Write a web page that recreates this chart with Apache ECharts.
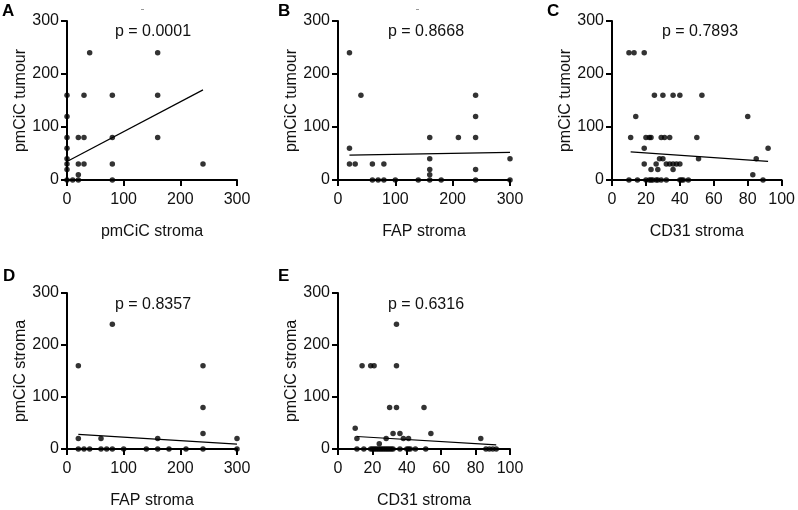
<!DOCTYPE html>
<html>
<head>
<meta charset="utf-8">
<script src="https://cdn.jsdelivr.net/npm/echarts@6/dist/echarts.min.js"></script>
<style>html,body{margin:0;padding:0;background:#fff}#c{width:798px;height:510px}</style>
</head>
<body>
<div id="c"></div>
<script>
// ---- data ----
const panelLetters = ['A', 'B', 'C', 'D', 'E'];
const pValues = ['p = 0.0001', 'p = 0.8668', 'p = 0.7893', 'p = 0.8357', 'p = 0.6316'];
const xNames = ['pmCiC stroma', 'FAP stroma', 'CD31 stroma', 'FAP stroma', 'CD31 stroma'];
const yNames = ['pmCiC tumour', 'pmCiC tumour', 'pmCiC tumour', 'pmCiC stroma', 'pmCiC stroma'];
const xMax = [300, 300, 100, 300, 100];
const xStep = [100, 100, 20, 100, 20];
const yMax = [300, 300, 300, 300, 300];
const yStep = [100, 100, 100, 100, 100];

const aPoints = [[0,160],[0,120],[0,80],[0,60],[0,40],[0,30],[0,20],[0,0],[10,0],[20,80],[20,30],[20,10],[20,0],
  [30,160],[30,80],[30,30],[40,240],[80,160],[80,80],[80,30],[80,0],[160,240],[160,160],[160,80],[240,30]];
const bPoints = [[20,240],[40,160],[20,60],[20,30],[30,30],[60,30],[80,30],[60,0],[70,0],[80,0],[100,0],[140,0],
  [160,80],[160,40],[160,20],[160,10],[160,0],[180,0],[210,80],[240,160],[240,120],[240,80],[240,20],[240,0],[300,40],[300,0]];
const cPoints = [[10,240],[13,240],[19,240],[25,160],[30,160],[36,160],[40,160],[53,160],[14,120],[80,120],
  [11,80],[20,80],[22,80],[23,80],[29,80],[31,80],[34,80],[50,80],[19,60],[92,60],[28,40],[30,40],[51,40],[85,40],
  [19,30],[26,30],[32,30],[34,30],[36,30],[38,30],[40,30],[23,20],[27,20],[36,20],[83,10],
  [10,0],[15,0],[20,0],[22,0],[23,0],[24,0],[26,0],[27,0],[29,0],[32,0],[40,0],[41,0],[42,0],[45,0],[89,0]];
const dPoints = [[20,160],[80,240],[240,160],[240,80],[240,30],[20,20],[60,20],[160,20],[300,20],
  [20,0],[30,0],[40,0],[60,0],[70,0],[80,0],[100,0],[140,0],[160,0],[180,0],[210,0],[240,0],[300,0]];
const ePoints = [[34,240],[14,160],[19,160],[21,160],[34,160],[30,80],[34,80],[50,80],[10,40],[32,30],[36,30],[54,30],
  [11,20],[28,20],[38,20],[41,20],[83,20],[24,10],
  [11,0],[15,0],[19,0],[20,0],[21,0],[22,0],[23,0],[24,0],[25,0],[26,0],[27,0],[28,0],[29,0],[30,0],[31,0],[32,0],
  [36,0],[40,0],[41,0],[42,0],[45,0],[51,0],[86,0],[88,0],[90,0],[92,0]];

const aFit = [[0,35],[240,170]];
const bFit = [[20,47],[300,52]];
const cFit = [[11,53],[92,35]];
const dFit = [[20,28],[300,9.5]];
const eFit = [[11,24],[92,8]];

const allPoints = [aPoints, bPoints, cPoints, dPoints, ePoints];
const allFits = [aFit, bFit, cFit, dFit, eFit];

// ---- layout ----
const FONT = '"Liberation Sans", Arial, Helvetica, sans-serif';
const gridBoxes = [
  {left: 67, top: 21, width: 170, height: 159},
  {left: 338, top: 21, width: 172, height: 159},
  {left: 612, top: 21, width: 172, height: 159},
  {left: 67, top: 293, width: 170, height: 159},
  {left: 338, top: 293, width: 172, height: 159}
];
const pPos = [[153, 32], [426, 32], [700, 32], [153, 305], [426, 305]];
const letterPos = [[2, 11], [278, 11], [547, 11], [3, 276], [278, 276]];

function makeAxis(extra) {
  return Object.assign({
    type: 'value',
    splitLine: {show: false},
    axisLine: {show: true, lineStyle: {color: '#000000', width: 2}},
    axisTick: {show: true, length: 6, lineStyle: {color: '#000000', width: 2}},
    nameLocation: 'middle',
    nameTextStyle: {fontFamily: FONT, fontSize: 16, color: '#111'}
  }, extra);
}

const grids = [], xAxes = [], yAxes = [], series = [], graphics = [];
for (let i = 0; i < 5; i++) {
  grids.push(Object.assign({}, gridBoxes[i]));
  xAxes.push(makeAxis({
    gridIndex: i, min: 0, max: xMax[i], interval: xStep[i],
    name: xNames[i], nameGap: 44,
    axisLabel: {fontFamily: FONT, fontSize: 16, color: '#111', margin: 12}
  }));
  yAxes.push(makeAxis({
    gridIndex: i, min: 0, max: yMax[i], interval: yStep[i],
    name: yNames[i], nameGap: 37, nameRotate: 90,
    axisLabel: {fontFamily: FONT, fontSize: 16, color: '#111', margin: 8}
  }));
  series.push({
    type: 'scatter', xAxisIndex: i, yAxisIndex: i, data: allPoints[i],
    symbol: 'circle', symbolSize: 5.5, itemStyle: {color: '#000'}, clip: false, z: 5
  });
  series.push({
    type: 'line', xAxisIndex: i, yAxisIndex: i, data: allFits[i],
    symbol: 'none', lineStyle: {color: '#000', width: 1.2}, clip: false, z: 4
  });
  graphics.push({
    type: 'text', x: pPos[i][0], y: pPos[i][1],
    style: {text: pValues[i], fontFamily: FONT, fontSize: 16, fill: '#111', align: 'center', verticalAlign: 'middle'}
  });
  graphics.push({
    type: 'text', x: letterPos[i][0], y: letterPos[i][1],
    style: {text: panelLetters[i], fontFamily: FONT, fontSize: 17, fontWeight: 'bold', fill: '#000', align: 'left', verticalAlign: 'middle'}
  });
}
graphics.push({type: 'rect', shape: {x: 141, y: 9, width: 3, height: 1}, style: {fill: '#999'}});
graphics.push({type: 'rect', shape: {x: 416, y: 9, width: 3, height: 1}, style: {fill: '#999'}});

const chart = echarts.init(document.getElementById('c'), null, {renderer: 'canvas'});
chart.setOption({
  animation: false,
  backgroundColor: '#fff',
  grid: grids, xAxis: xAxes, yAxis: yAxes, series: series, graphic: graphics
});
</script>
</body>
</html>
